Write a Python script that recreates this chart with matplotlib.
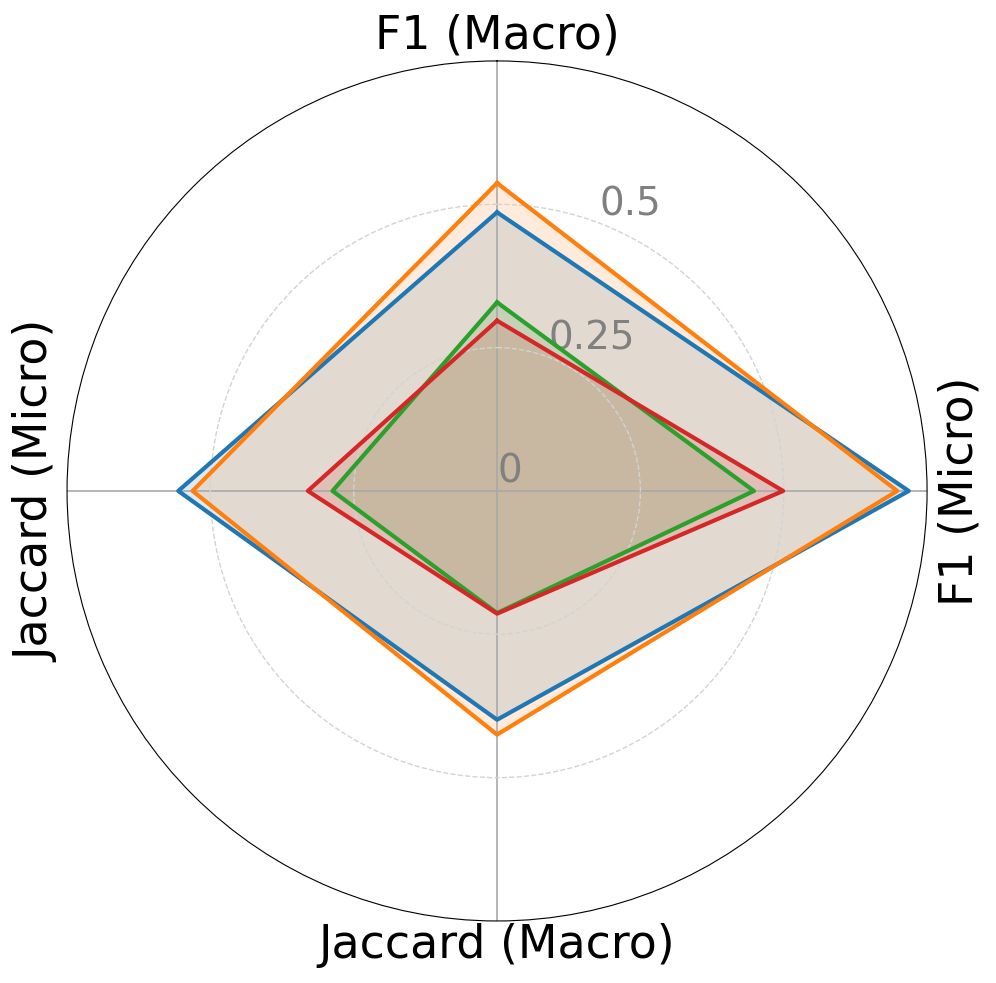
"""Radar chart of F1 / Jaccard scores"""

from matplotlib import pyplot as plt
import numpy as np

categories = ['F1 (Macro)', 'F1 (Micro)', 'Jaccard (Macro)', 'Jaccard (Micro)']

# one list per model, same order as categories
series_blue = [0.486, 0.718, 0.399, 0.556]
series_orange = [0.537, 0.698, 0.425, 0.531]
series_green = [0.329, 0.448, 0.213, 0.287]
series_red = [0.297, 0.499, 0.214, 0.330]

r_ticks = [0, 0.25, 0.5]
r_ticklabels = ['0', '0.25', '0.5']

angles = np.linspace(0, 2 * np.pi, len(categories), endpoint=False)
closed = np.append(angles, angles[0])

fig = plt.figure(figsize=(9.96, 9.83), dpi=100)
ax = fig.add_axes([0.0673, 0.0631, 0.8635, 0.8749], polar=True)
ax.set_theta_offset(np.pi / 2)
ax.set_theta_direction(-1)

for values, color in [(series_blue, 'tab:blue'),
                      (series_orange, 'tab:orange'),
                      (series_green, 'tab:green'),
                      (series_red, 'tab:red')]:
    vals = np.append(values, values[0])
    ax.plot(closed, vals, color=color, linewidth=3)
    ax.fill(closed, vals, color=color, alpha=0.15)

rmax = 0.75
ax.set_ylim(0, rmax)
ax.set_yticks(r_ticks)
ax.set_yticklabels(r_ticklabels, fontsize=28, color='grey')
ax.set_rlabel_position(21)
ax.yaxis.grid(True, linestyle='--', color='lightgrey', linewidth=1)
ax.xaxis.grid(True, color='darkgrey', linewidth=1.2)

# category labels drawn by hand so the side ones can be turned upright
ax.set_xticks(angles)
ax.set_xticklabels([])
for angle, name, rot, pad in zip(angles, categories, [0, 90, 0, 90],
                                 [0.044, 0.058, 0.043, 0.052]):
    ax.text(angle, rmax + pad, name, fontsize=33, rotation=rot,
            ha='center', va='center', rotation_mode='anchor')

ax.spines['polar'].set_color('black')

plt.savefig('out.png', dpi=100)
